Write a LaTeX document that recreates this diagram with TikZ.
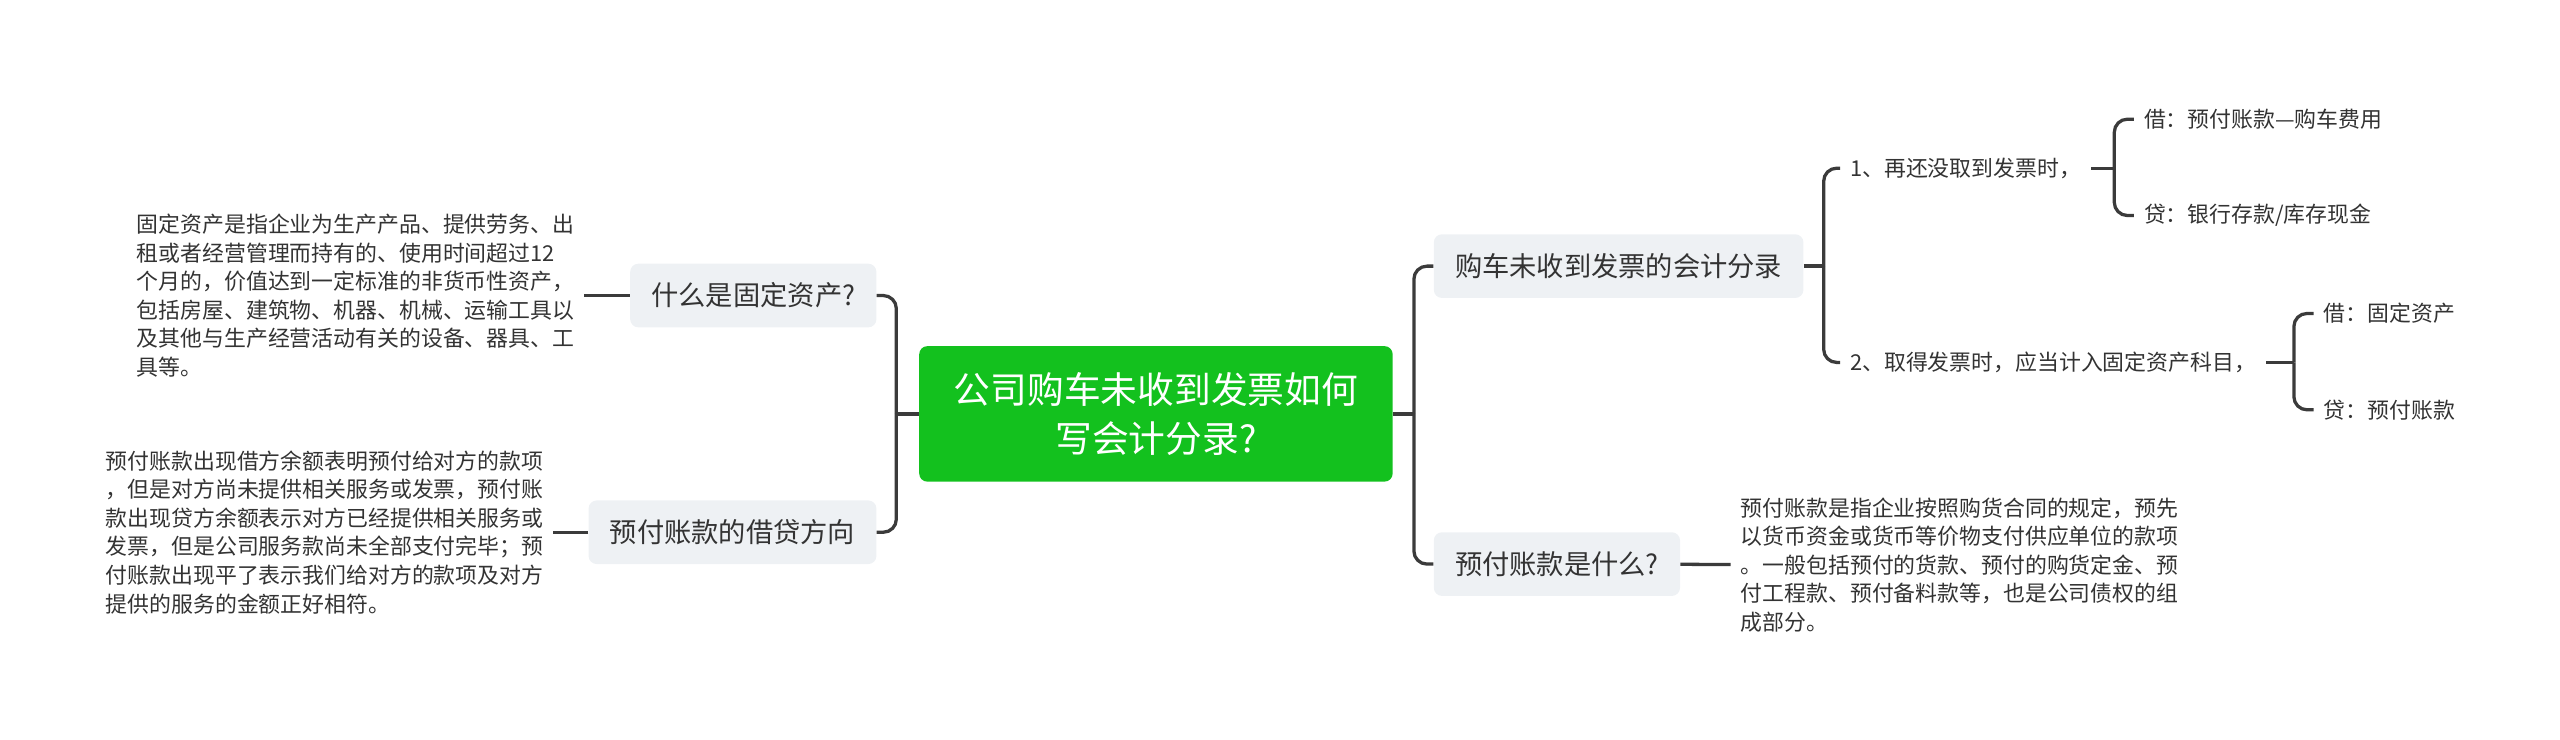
\documentclass[tikz,border=0pt]{standalone}
\usepackage{fontspec}
\setmainfont{Noto Sans CJK SC}
\usepackage{tikz}

\definecolor{ink}{HTML}{333333}
\definecolor{wire}{HTML}{3B3B3B}
\definecolor{pale}{HTML}{EEF1F4}
\definecolor{leaf}{HTML}{13C11E}

\begin{document}
\begin{tikzpicture}[x=1pt,y=-1pt,
    root/.style={rectangle,rounded corners=5pt,fill=leaf,text=white,align=center,
        minimum width=290pt,minimum height=83pt,font=\fontsize{22.5pt}{30pt}\selectfont},
    topic/.style={rectangle,rounded corners=5pt,fill=pale,text=ink,inner xsep=13pt,
        minimum height=39pt,font=\fontsize{16.7pt}{20pt}\selectfont},
    note/.style={text=ink,align=left,inner xsep=6pt,inner ysep=2pt,
        font=\fontsize{13.4pt}{17.5pt}\selectfont},
    link/.style={draw=wire,line width=2pt,rounded corners=8pt},
    elbow/.style={to path={|- (\tikztotarget)}}]
    \useasboundingbox (0,0) rectangle (1568,453);
    \node[root] (0) at (708,253.5) {公司购车未收到发票如何\\写会计分录?};
    \coordinate (a) at (549,253.5);
    \coordinate (b) at (866,253.5);
    \node[topic] (1) [anchor=east] at (537,181) {什么是固定资产?};
    \node[topic] (2) [anchor=east] at (537,326) {预付账款的借贷方向};
    \node[topic] (3) [anchor=west] at (878,163) {购车未收到发票的会计分录};
    \node[topic] (4) [anchor=west] at (878,345.5) {预付账款是什么?};
    \node[note] (5) [anchor=east] at (358,181) {固定资产是指企业为生产产品、提供劳务、出\\
        租或者经营管理而持有的、使用时间超过12\\
        个月的，价值达到一定标准的非货币性资产，\\
        包括房屋、建筑物、机器、机械、运输工具以\\
        及其他与生产经营活动有关的设备、器具、工\\
        具等。};
    \node[note] (6) [anchor=east] at (339,326) {预付账款出现借方余额表明预付给对方的款项\\
        ，但是对方尚未提供相关服务或发票，预付账\\
        款出现贷方余额表示对方已经提供相关服务或\\
        发票，但是公司服务款尚未全部支付完毕；预\\
        付账款出现平了表示我们给对方的款项及对方\\
        提供的服务的金额正好相符。};
    \node[note] (7) [anchor=west] at (1060,346) {预付账款是指企业按照购货合同的规定，预先\\
        以货币资金或货币等价物支付供应单位的款项\\
        。一般包括预付的货款、预付的购货定金、预\\
        付工程款、预付备料款等，也是公司债权的组\\
        成部分。};
    \coordinate (c) at (1117,163);
    \node[note] (8) [anchor=west] at (1127,103) {1、再还没取到发票时，};
    \node[note] (9) [anchor=west] at (1127,222) {2、取得发票时，应当计入固定资产科目，};
    \coordinate (d) at (1295,103);
    \node[note] (10) [anchor=west] at (1307,73) {借：预付账款—购车费用};
    \node[note] (11) [anchor=west] at (1307,132) {贷：银行存款/库存现金};
    \coordinate (e) at (1405,222);
    \node[note] (12) [anchor=west] at (1417,192) {借：固定资产};
    \node[note] (13) [anchor=west] at (1417,251) {贷：预付账款};
    \path[link]
    (0) edge (a)
        edge (b)
    (a) edge[elbow] (1)
        edge[elbow] (2)
    (1) edge (5)
    (2) edge (6)
    (b) edge[elbow] (3)
        edge[elbow] (4)
    (4) edge (7)
    (3) edge (c)
    (c) edge[elbow] (8)
        edge[elbow] (9)
    (8) edge (d)
    (d) edge[elbow] (10)
        edge[elbow] (11)
    (9) edge (e)
    (e) edge[elbow] (12)
        edge[elbow] (13);
\end{tikzpicture}
\end{document}
